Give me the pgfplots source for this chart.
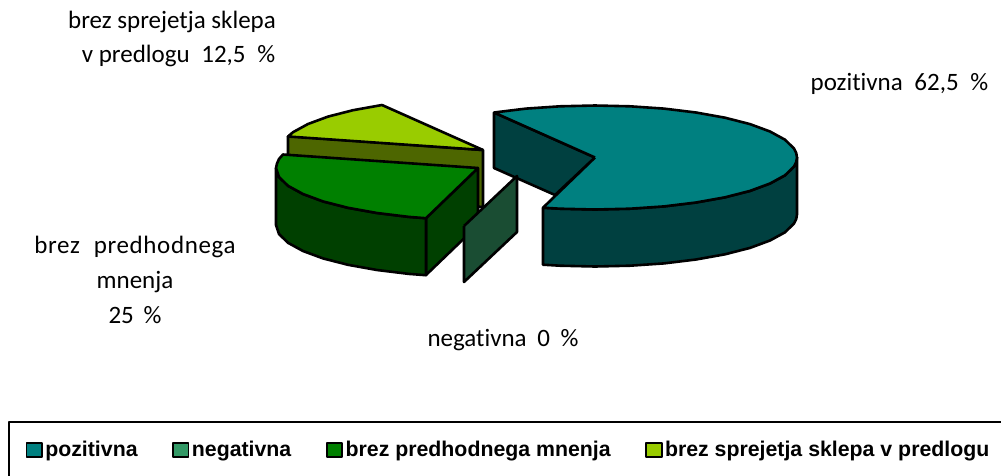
\documentclass[border=0pt]{standalone}
\usepackage{pgfplots}
\pgfplotsset{compat=1.18}
\usepackage{fontspec}
\setmainfont{Liberation Sans}
\newfontfamily\lab[Ligatures=NoCommon]{Carlito}
\newfontfamily\labw[Ligatures=NoCommon,LetterSpace=2.5]{Carlito}
\definecolor{teal1}{HTML}{008080}
\definecolor{teal2}{HTML}{004040}
\definecolor{neg1}{HTML}{339966}
\definecolor{neg2}{HTML}{1A4D33}
\definecolor{gr1}{HTML}{008000}
\definecolor{gr2}{HTML}{004000}
\definecolor{li1}{HTML}{99CC00}
\definecolor{li2}{HTML}{4D6600}
\begin{document}
\begin{tikzpicture}[x=1pt,y=1pt]
\path[use as bounding box] (0,0) rectangle (1001,475);
\begin{axis}[
  at={(0,0)}, anchor=south west,
  scale only axis, width=1001pt, height=475pt,
  xmin=0, xmax=1001, ymin=0, ymax=475, y dir=reverse,
  axis lines=none, clip=true,
  legend columns=4,
  legend style={at={(axis cs:25.5,449.5)}, anchor=west, draw=none, fill=none,
    font=\fontsize{21.3}{24}\selectfont\bfseries, inner sep=0pt, outer sep=0pt,
    /tikz/every even column/.append style={column sep=32pt},
    nodes={inner xsep=2.5pt, inner ysep=0pt}},
  legend image code/.code={\draw[#1, line width=1.8pt, draw=black] (0pt,-7.5pt) rectangle (15.5pt,6.5pt);},
  every axis plot/.append style={line width=2.6pt, draw=black, line join=round, forget plot},
]
% lime side and top
\addplot[fill=li2] coordinates {(288,136) (483,150) (483,207) (288,193) (288,136)};
\addplot[fill=li1] coordinates {(483,150) (382,105) (353,110.2) (328,116.6) (308,124) (293,132.2) (288,136.5) (483,150)};
% green sides and top
\addplot[fill=gr2] coordinates {(426,218) (478,168) (478,225) (426,275) (426,218)};
\addplot[fill=gr2] coordinates {(276,168) (279,177) (288,185.8) (303,194) (323,201.4) (348,207.8) (377,213) (409,216.9) (426,218.2) (426,275.2) (409,273.9) (377,270) (348,264.8) (323,258.4) (303,251) (288,242.8) (279,234) (276,225) (276,168)};
\addplot[fill=gr1] coordinates {(478,168) (283,154.5) (279,159) (277,163.5) (276,168) (279,177) (288,185.8) (303,194) (323,201.4) (348,207.8) (377,213) (409,216.9) (426,218.2) (478,168)};
% teal inner side
\addplot[fill=teal2] coordinates {(494,112.5) (595,157.5) (555,195) (494,168) (494,112.5)};
% teal outer side
\addplot[fill=teal2] coordinates {(543,207.7) (560,208.7) (595,209.5) (630,208.7) (664,206.4) (696,202.5) (725,197.3) (750,190.9) (770,183.5) (785,175.3) (794,166.5) (796.2,162) (797,157.5) (797,214.5) (796.2,219) (794,223.5) (785,232.3) (770,240.5) (750,247.9) (725,254.3) (696,259.5) (664,263.4) (630,265.7) (595,266.5) (560,265.7) (543,264.7) (543,207.7)};
% teal top
\addplot[fill=teal1] coordinates {(595,157.5) (494,112.5) (526,108.6) (560,106.3) (595,105.5) (630,106.3) (664,108.6) (696,112.5) (725,117.7) (750,124.1) (770,131.5) (785,139.7) (794,148.5) (796.2,153) (797,157.5) (796.2,162) (794,166.5) (785,175.3) (770,183.5) (750,190.9) (725,197.3) (696,202.5) (664,206.4) (630,208.7) (595,209.5) (560,208.7) (543,207.7) (595,157.5)};
% negative: zero-size slice
\addplot[fill=neg2] coordinates {(464,226) (517,176) (517,232) (464,282) (464,226)};
% legend frame
\addplot[draw=black, line width=2pt, fill=none] coordinates {(8.5,490) (8.5,421.5) (1010,421.5)};
% legend
\addlegendimage{fill=teal1}\addlegendentry{pozitivna}
\addlegendimage{fill=neg1}\addlegendentry{negativna}
\addlegendimage{fill=gr1}\addlegendentry{brez predhodnega mnenja}
\addlegendimage{fill=li1}\addlegendentry{brez sprejetja sklepa v predlogu}
% labels
\node[font=\lab\fontsize{25}{34}\selectfont, align=center, anchor=center] at (axis cs:172,39) {brez sprejetja sklepa\\\hspace*{13pt}v predlogu\hspace{6pt} 12,5\hspace{6pt} \%};
\node[font=\lab\fontsize{25}{35}\selectfont, align=center, anchor=center] at (axis cs:135,280) {{\labw brez\hspace{14pt}predhodnega}\\mnenja\\25\hspace{4pt} \%};
\node[font=\lab\fontsize{25}{28}\selectfont, anchor=center] at (axis cs:899.5,84) {pozitivna\hspace{6pt} 62,5\hspace{6pt} \%};
\node[font=\lab\fontsize{25}{28}\selectfont, anchor=center] at (axis cs:503,340) {negativna\hspace{5pt} 0\hspace{5pt} \%};
\end{axis}
\end{tikzpicture}
\end{document}
